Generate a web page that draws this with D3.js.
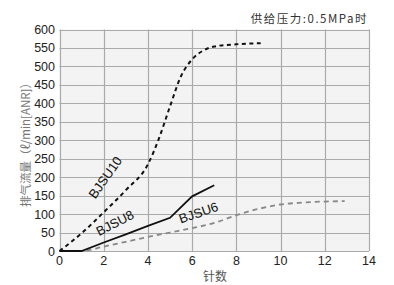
<!DOCTYPE html>
<html>
<head>
<meta charset="utf-8">
<script src="https://cdnjs.cloudflare.com/ajax/libs/d3/7.8.5/d3.min.js"></script>
<style>
  body { margin: 0; background: #fff; }
  svg { display: block; font-family: "Liberation Sans", Arial, sans-serif; }
</style>
</head>
<body>
<svg id="chart" width="394" height="285"></svg>
<script>
// values
var xTicks = [0, 2, 4, 6, 8, 10, 12, 14];
var yTicks = [0, 50, 100, 150, 200, 250, 300, 350, 400, 450, 500, 550, 600];

var bjsu10 = [[0, 0], [1, 48], [2, 105], [3, 165], [4, 235], [4.5, 305], [5, 392],
  [5.5, 474], [6, 519], [6.5, 543], [7, 554], [8, 560], [9.1, 563]];
var bjsu8 = [[0, 0], [1, 0], [2, 23], [3, 45], [4, 68], [5, 90], [6, 148], [7, 178]];
var bjsu6 = [[0, 0], [1, 0], [2, 12], [3, 25], [4, 38], [5, 50], [6, 62], [7, 76],
  [8, 97], [9, 114], [10, 126], [11, 131], [12, 134], [12.9, 135]];

var seriesNames = ["BJSU10", "BJSU8", "BJSU6"];

var svg = d3.select("#chart");
var m = { left: 59.5, right: 369, top: 29.5, bottom: 251 };

var x = d3.scaleLinear().domain([0, 14]).range([m.left, m.right]);
var y = d3.scaleLinear().domain([0, 600]).range([m.bottom, m.top]);

svg.append("rect")
  .attr("x", m.left).attr("y", m.top)
  .attr("width", m.right - m.left).attr("height", m.bottom - m.top)
  .attr("fill", "#f2f3f2");

// grid
svg.append("g").selectAll("line").data(xTicks).enter().append("line")
  .attr("x1", function(d) { return Math.round(x(d)) + 0.5; })
  .attr("x2", function(d) { return Math.round(x(d)) + 0.5; })
  .attr("y1", m.top).attr("y2", m.bottom)
  .attr("stroke", "#a9abaa").attr("stroke-width", 1.2);

svg.append("g").selectAll("line").data(yTicks).enter().append("line")
  .attr("y1", function(d) { return Math.round(y(d)) + 0.5; })
  .attr("y2", function(d) { return Math.round(y(d)) + 0.5; })
  .attr("x1", m.left).attr("x2", m.right)
  .attr("stroke", "#a9abaa").attr("stroke-width", 1.2);

// tick labels
svg.append("g").selectAll("text").data(yTicks).enter().append("text")
  .attr("x", 55).attr("y", function(d) { return y(d) + 4.5; })
  .attr("text-anchor", "end")
  .attr("font-size", 12.5).attr("fill", "#222")
  .text(function(d) { return d; });

svg.append("g").selectAll("text").data(xTicks).enter().append("text")
  .attr("x", function(d) { return x(d); }).attr("y", 265)
  .attr("text-anchor", "middle")
  .attr("font-size", 12.5).attr("fill", "#222")
  .text(function(d) { return d; });

svg.append("text")
  .attr("x", 215).attr("y", 281)
  .attr("text-anchor", "middle")
  .attr("font-family", "Noto Sans CJK SC")
  .attr("font-size", 12).attr("fill", "#555")
  .text("针数");

svg.append("text")
  .attr("transform", "translate(30,142) rotate(-90)")
  .attr("text-anchor", "middle")
  .attr("font-family", "Noto Sans CJK SC")
  .attr("font-size", 11.5).attr("fill", "#777")
  .text("排气流量（ℓ/min[ANR]）");

svg.append("text")
  .attr("x", 368).attr("y", 23)
  .attr("text-anchor", "end")
  .attr("font-family", "Noto Sans CJK SC")
  .attr("font-size", 11.5).attr("letter-spacing", 1.5).attr("fill", "#333")
  .text("供给压力:0.5MPa时");

// curves
var line = d3.line()
  .x(function(d) { return x(d[0]); })
  .y(function(d) { return y(d[1]); })
  .curve(d3.curveMonotoneX);

var straight = d3.line()
  .x(function(d) { return x(d[0]); })
  .y(function(d) { return y(d[1]); });

svg.append("path").datum(bjsu6)
  .attr("d", line).attr("fill", "none")
  .attr("stroke", "#888").attr("stroke-width", 1.8)
  .attr("stroke-dasharray", "5,4");

svg.append("path").datum(bjsu8)
  .attr("d", straight).attr("fill", "none")
  .attr("stroke", "#111").attr("stroke-width", 1.8);

svg.append("path").datum(bjsu10)
  .attr("d", line).attr("fill", "none")
  .attr("stroke", "#111").attr("stroke-width", 2)
  .attr("stroke-dasharray", "4,3.5");

// series labels
var labelPos = [[109, 180, -55], [117, 227, -27], [200, 217, -19]];
svg.append("g").selectAll("text").data(seriesNames).enter().append("text")
  .attr("transform", function(d, i) {
    var p = labelPos[i];
    return "translate(" + p[0] + "," + p[1] + ") rotate(" + p[2] + ")";
  })
  .attr("text-anchor", "middle")
  .attr("font-size", 13).attr("fill", "#111")
  .text(function(d) { return d; });
</script>
</body>
</html>
